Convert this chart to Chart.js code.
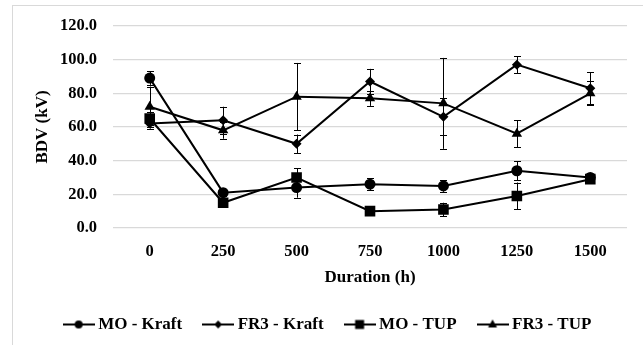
<!DOCTYPE html>
<html>
<head>
<meta charset="utf-8">
<script src="https://cdn.jsdelivr.net/npm/chart.js@4.4.1/dist/chart.umd.min.js"></script>
<style>
  html, body { margin: 0; padding: 0; background: #fff; }
  #wrap { position: relative; width: 643px; height: 345px; overflow: hidden; }
  #frame { position: absolute; left: 12px; top: 5px; width: 700px; height: 400px; border: 1px solid #d9d9d9; box-sizing: border-box; }
  #c { position: absolute; left: 0; top: 0; }
</style>
</head>
<body>
<div id="wrap">
  <div id="frame"></div>
  <canvas id="c" width="643" height="345"></canvas>
</div>
<script>
// ---- data ----
const durations = ['0', '250', '500', '750', '1000', '1250', '1500'];
const seriesNames = ['MO - Kraft', 'FR3 - Kraft', 'MO - TUP', 'FR3 - TUP'];
const moKraft     = [89, 21, 24, 26, 25, 34, 30];
const moKraftErr  = [4, 2, 6, 3.5, 3.5, 5.5, 2];
const fr3Kraft    = [62, 64, 50, 87, 66, 97, 83];
const fr3KraftErr = [3, 8, 5.5, 7.5, 11, 5, 9.5];
const moTup       = [65, 15, 30, 10, 11, 19, 29];
const moTupErr    = [4, 1.5, 5.5, 1.5, 4, 8, 2.5];
const fr3Tup      = [72, 58, 78, 77, 74, 56, 80];
const fr3TupErr   = [12, 5, 20, 4.5, 27, 8, 7];
const yTicks = [0, 20, 40, 60, 80, 100, 120];

const FONT = "'Liberation Serif', 'Times New Roman', serif";

// legend icons: line with marker
function makeIcon(shape) {
  const cv = document.createElement('canvas');
  cv.width = 32; cv.height = 14;
  const g = cv.getContext('2d');
  g.strokeStyle = '#000'; g.fillStyle = '#000'; g.lineWidth = 2;
  g.beginPath(); g.moveTo(0, 7); g.lineTo(32, 7); g.stroke();
  const cx = 16, cy = 7;
  g.beginPath();
  if (shape === 'circle') { g.arc(cx, cy, 4, 0, Math.PI * 2); }
  else if (shape === 'rectRot') { g.moveTo(cx, cy - 4); g.lineTo(cx + 4, cy); g.lineTo(cx, cy + 4); g.lineTo(cx - 4, cy); g.closePath(); }
  else if (shape === 'rect') { g.rect(cx - 4.5, cy - 4.5, 9, 9); }
  else if (shape === 'triangle') { g.moveTo(cx, cy - 5); g.lineTo(cx + 4.5, cy + 3); g.lineTo(cx - 4.5, cy + 3); g.closePath(); }
  g.fill();
  return cv;
}
const shapes = ['circle', 'rectRot', 'rect', 'triangle'];
const radii = [5.5, 5, 7.5, 6];
const icons = shapes.map(makeIcon);

const values = [moKraft, fr3Kraft, moTup, fr3Tup];
const errors = [moKraftErr, fr3KraftErr, moTupErr, fr3TupErr];

const datasets = seriesNames.map((name, i) => ({
  label: name,
  data: values[i],
  errors: errors[i],
  borderColor: '#000',
  backgroundColor: '#000',
  borderWidth: 2,
  pointStyle: shapes[i],
  pointRadius: radii[i],
  pointHoverRadius: radii[i],
  pointBorderWidth: 0,
  pointBackgroundColor: '#000',
  tension: 0,
  fill: false
}));

const errorBars = {
  id: 'errorBars',
  beforeDatasetsDraw(chart) {
    const ctx = chart.ctx;
    const y = chart.scales.y;
    ctx.save();
    ctx.strokeStyle = '#000';
    ctx.lineWidth = 1;
    chart.data.datasets.forEach((ds, di) => {
      const meta = chart.getDatasetMeta(di);
      meta.data.forEach((pt, i) => {
        const v = ds.data[i], e = ds.errors[i];
        const yt = y.getPixelForValue(v + e), yb = y.getPixelForValue(v - e);
        const x = Math.round(pt.x) + 0.5;
        ctx.beginPath();
        ctx.moveTo(x, yt); ctx.lineTo(x, yb);
        ctx.moveTo(x - 3.5, Math.round(yt) + 0.5); ctx.lineTo(x + 3.5, Math.round(yt) + 0.5);
        ctx.moveTo(x - 3.5, Math.round(yb) + 0.5); ctx.lineTo(x + 3.5, Math.round(yb) + 0.5);
        ctx.stroke();
      });
    });
    ctx.restore();
  }
};

new Chart(document.getElementById('c'), {
  type: 'line',
  data: { labels: durations, datasets },
  plugins: [errorBars],
  options: {
    responsive: false,
    animation: false,
    events: [],
    layout: { padding: { left: 32, top: 24, right: 16, bottom: 2 } },
    plugins: {
      tooltip: { enabled: false },
      title: { display: false },
      legend: {
        position: 'bottom',
        labels: {
          usePointStyle: true,
          pointStyleWidth: 22,
          padding: 25,
          color: '#000',
          font: { family: FONT, size: 17, weight: 'bold' },
          generateLabels(chart) {
            const items = Chart.defaults.plugins.legend.labels.generateLabels(chart);
            items.forEach((it, i) => { it.pointStyle = icons[i]; });
            return items;
          }
        }
      }
    },
    scales: {
      x: {
        offset: true,
        grid: { display: false, drawTicks: false },
        border: { display: false },
        ticks: { color: '#000', padding: 14, font: { family: FONT, size: 16.5, weight: 'bold' } },
        title: { display: true, text: 'Duration (h)', color: '#000', padding: { top: 0, bottom: 3 }, font: { family: FONT, size: 17, weight: 'bold' } },
        afterFit(s) { s.height = 63; }
      },
      y: {
        min: 0, max: 120,
        afterBuildTicks(s) { s.ticks = yTicks.map(v => ({ value: v })); },
        grid: { color: '#d9d9d9', lineWidth: 1.2, drawTicks: false },
        border: { display: false },
        ticks: { color: '#000', padding: 16, font: { family: FONT, size: 16.5, weight: 'bold' }, callback: v => Number(v).toFixed(1) },
        title: { display: true, text: 'BDV (kV)', color: '#000', padding: { top: 0, bottom: 0 }, font: { family: FONT, size: 17, weight: 'bold' } },
        afterFit(s) { s.width = 81; }
      }
    }
  }
});
</script>
</body>
</html>
